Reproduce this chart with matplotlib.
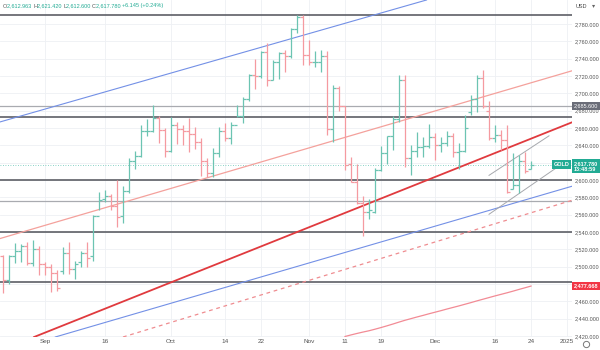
import numpy as np
import pandas as pd
import matplotlib
matplotlib.use("Agg")
import matplotlib.pyplot as plt
from matplotlib.lines import Line2D
import matplotlib.transforms as mtransforms

plt.rcParams["font.family"] = ["Liberation Sans", "DejaVu Sans"]

# Gold daily bars, Aug 22 - Dec 24 2024 (one bar per weekday)
opens = [2512, 2485, 2512, 2518, 2524, 2504, 2521, 2503, 2500, 2493,
         2495, 2516, 2497, 2506, 2516, 2512, 2558, 2578, 2582, 2570,
         2559, 2587, 2622, 2628, 2657, 2657, 2672, 2658, 2634, 2663,
         2659, 2656, 2653, 2644, 2622, 2608, 2631, 2657, 2649, 2663,
         2674, 2693, 2721, 2720, 2748, 2715, 2736, 2747, 2743, 2774,
         2788, 2744, 2736, 2736, 2743, 2659, 2706, 2685, 2618, 2598,
         2573, 2563, 2563, 2612, 2631, 2651, 2670, 2715, 2625, 2633,
         2638, 2639, 2650, 2640, 2643, 2651, 2632, 2633, 2678, 2694,
         2718, 2680, 2648, 2652, 2646, 2590, 2594, 2622, 2612.963]
highs = [2514, 2513, 2527, 2526, 2528, 2531, 2524, 2505, 2503, 2496,
         2523, 2529, 2507, 2518, 2529, 2560, 2586, 2589, 2584, 2600,
         2593, 2625, 2634, 2664, 2670, 2686, 2674, 2660, 2673, 2667,
         2664, 2671, 2661, 2648, 2625, 2637, 2661, 2666, 2667, 2686,
         2696, 2722, 2740, 2749, 2758, 2739, 2748, 2750, 2775, 2790,
         2790, 2761, 2749, 2750, 2749, 2710, 2709, 2685, 2626, 2618,
         2581, 2578, 2614, 2639, 2651, 2674, 2721, 2721, 2640, 2655,
         2650, 2665, 2654, 2650, 2657, 2654, 2643, 2675, 2698, 2721,
         2727, 2691, 2663, 2658, 2664, 2631, 2629, 2632, 2621.42]
lows = [2470, 2480, 2504, 2506, 2502, 2501, 2490, 2490, 2471, 2472,
        2492, 2492, 2486, 2500, 2500, 2507, 2565, 2575, 2565, 2546,
        2550, 2585, 2613, 2626, 2651, 2655, 2643, 2626, 2632, 2641,
        2640, 2632, 2636, 2605, 2603, 2603, 2626, 2645, 2642, 2673,
        2666, 2691, 2705, 2718, 2709, 2715, 2717, 2725, 2741, 2770,
        2733, 2733, 2730, 2725, 2652, 2644, 2680, 2611, 2598, 2572,
        2536, 2555, 2562, 2610, 2618, 2635, 2667, 2615, 2606, 2627,
        2627, 2637, 2623, 2632, 2639, 2626, 2613, 2632, 2675, 2678,
        2683, 2646, 2644, 2635, 2585, 2590, 2585, 2608, 2612.6]
closes = [2485, 2512, 2518, 2524, 2504, 2521, 2503, 2500, 2493, 2476,
          2516, 2497, 2503, 2516, 2510, 2558, 2577, 2582, 2570, 2557,
          2587, 2622, 2628, 2657, 2657, 2672, 2658, 2634, 2663, 2659,
          2656, 2653, 2644, 2622, 2608, 2631, 2657, 2649, 2663, 2674,
          2693, 2721, 2720, 2748, 2715, 2736, 2747, 2743, 2774, 2788,
          2744, 2736, 2736, 2743, 2659, 2706, 2685, 2617, 2598, 2573,
          2563, 2565, 2612, 2631, 2651, 2670, 2715, 2625, 2633, 2638,
          2639, 2650, 2640, 2643, 2651, 2632, 2633, 2660, 2694, 2718,
          2685, 2648, 2652, 2646, 2586, 2594, 2622, 2610, 2617.78]

# moving average, shown from Nov 11 onwards
ma_start = "2024-11-11"
ma_values = [2419.5, 2421.3, 2423.0, 2424.6, 2426.1, 2427.9, 2429.8, 2431.8,
             2433.9, 2436.1, 2438.2, 2440.1, 2442.0, 2443.8, 2445.7, 2447.5,
             2449.3, 2451.2, 2453.0, 2454.8, 2456.7, 2458.6, 2460.6, 2462.5,
             2464.4, 2466.3, 2468.1, 2469.9, 2471.8, 2473.8, 2475.7, 2477.668]

# horizontal levels
levels_dark = [2790.0, 2672.5, 2600.0, 2540.0, 2482.0]
levels_light = [2685.6, 2575.5]
level_tag = 2685.6
last_price = 2617.78
last_time = "13:48:59"

# drawn trend lines, each through two (date, price) points
blue_upper = [("2024-08-22", 2668.0), ("2024-11-12", 2782.8)]
blue_lower = [("2024-09-05", 2421.5), ("2024-12-20", 2575.0)]
red_main = [("2024-08-29", 2418.4), ("2024-12-20", 2642.2)]
red_upper = [("2024-08-22", 2533.5), ("2024-12-20", 2708.1)]
red_dashed = [("2024-09-19", 2418.9), ("2024-12-20", 2558.0)]
gray_upper = [("2024-12-13", 2605.4), ("2024-12-27", 2651.0)]
gray_lower = [("2024-12-13", 2560.5), ("2024-12-30", 2613.0)]

# scale labels (2,620 and 2,480 sit under the price tags)
price_ticks = list(range(2420, 2781, 20))
hidden_ticks = [2620, 2480]
time_tick_dates = ["2024-09-02", "2024-09-16", "2024-10-01", "2024-10-14",
                   "2024-10-22", "2024-11-01", "2024-11-11", "2024-11-19",
                   "2024-12-02", "2024-12-16", "2024-12-24", "2025-01-01"]
time_tick_labels = ["Sep", "16", "Oct", "14", "22", "Nov", "11", "19",
                    "Dec", "16", "24", "2025"]

header_parts = [("O", "#555555"), ("2,612.963 ", "#22ab94"),
                ("H", "#555555"), ("2,621.420 ", "#22ab94"),
                ("L", "#555555"), ("2,612.600 ", "#22ab94"),
                ("C", "#555555"), ("2,617.780 ", "#22ab94"),
                ("+6.145 (+0.24%)", "#22ab94")]

# bar index for each weekday (bars sit on a gapless weekday axis)
days = pd.bdate_range("2024-08-22", "2025-01-03")
pos = {d: i for i, d in enumerate(days)}


def ix(d):
    return pos[pd.Timestamp(d)]


GREEN = "#6cc4b2"
RED = "#f59aa0"
TAG_GREEN = "#22ab94"
TAG_RED = "#f23645"
FS = 4.0

fig = plt.figure(figsize=(6, 3.5), dpi=100)
ax = fig.add_axes([0, 13 / 350, 572 / 600, 337 / 350])
ax.set_xlim(-0.5, 94.83)
ax.set_ylim(2418.9, 2807.7)
for s in ax.spines.values():
    s.set_visible(False)

# grid
ax.set_axisbelow(True)
ax.grid(True, color="#eef0f4", lw=0.6)

# axes ticks
ax.set_xticks([ix(d) for d in time_tick_dates])
ax.set_xticklabels(time_tick_labels)
ax.tick_params(axis="x", length=0, pad=1.5, labelsize=4.6, labelcolor="#555555")
ax.yaxis.tick_right()
ax.set_yticks(price_ticks)
ax.set_yticklabels(["" if p in hidden_ticks else "{:,.3f}".format(p)
                    for p in price_ticks])
ax.tick_params(axis="y", length=0, pad=1.6, labelsize=FS, labelcolor="#555555")

# horizontal levels
for lv in levels_dark:
    ax.axhline(lv, color="#5d5f66", lw=1.2, zorder=2)
for lv in levels_light:
    ax.axhline(lv, color="#a9abb0", lw=0.9, zorder=2)
ax.axhline(last_price, color=TAG_GREEN, lw=0.6, ls=(0, (1, 2)), alpha=0.7, zorder=2)


# trend lines
def trend(pts, **kw):
    (d1, p1), (d2, p2) = pts
    ax.axline((ix(d1), p1), (ix(d2), p2), zorder=3, **kw)


trend(blue_upper, color="#7390e6", lw=0.8)
trend(blue_lower, color="#7390e6", lw=0.8)
trend(red_main, color="#e03a3e", lw=1.3)
trend(red_upper, color="#f4a19c", lw=0.9)
trend(red_dashed, color="#ef8c90", lw=0.9, ls=(0, (3, 3)))
for seg in (gray_upper, gray_lower):
    (d1, p1), (d2, p2) = seg
    ax.plot([ix(d1), ix(d2)], [p1, p2], color="#a6a8ad", lw=0.7, zorder=3)

# moving average
ma_x = np.arange(ix(ma_start), ix(ma_start) + len(ma_values))
ax.plot(ma_x, ma_values, color="#f28b95", lw=0.9, zorder=3)

# OHLC bars
o = np.array(opens, dtype=float)
h = np.array(highs, dtype=float)
l = np.array(lows, dtype=float)
c = np.array(closes, dtype=float)
x = np.arange(len(o))
cols = [GREEN if cc >= oo else RED for oo, cc in zip(o, c)]
ax.vlines(x, l, h, colors=cols, lw=0.9, zorder=4)
ax.hlines(o, x - 0.42, x, colors=cols, lw=0.9, zorder=4)
ax.hlines(c, x, x + 0.42, colors=cols, lw=0.9, zorder=4)

# price tags on the right scale
trans = mtransforms.blended_transform_factory(ax.transAxes, ax.transData)
tag_box = dict(boxstyle="square,pad=0.3", ec="none")
tag_x = 574 / 572
ax.text(tag_x, level_tag, "{:,.3f}".format(level_tag), transform=trans,
        fontsize=FS, color="white", va="center", ha="left", zorder=10,
        clip_on=False, bbox=dict(tag_box, fc="#6a6d78"))
ax.text(tag_x, ma_values[-1], "{:,.3f}".format(ma_values[-1]), transform=trans,
        fontsize=FS, color="white", va="center", ha="left", zorder=10,
        clip_on=False, fontweight="bold", bbox=dict(tag_box, fc=TAG_RED))
ax.text(tag_x, last_price + 4.5, "{:,.3f}\n{}".format(last_price, last_time),
        transform=trans, fontsize=FS, color="white", va="top", ha="left",
        zorder=10, clip_on=False, linespacing=1.2, fontweight="bold",
        bbox=dict(tag_box, fc=TAG_GREEN))
ax.text(0.995, last_price, "GOLD", transform=trans, fontsize=FS,
        color="white", va="center", ha="right", zorder=10, fontweight="bold",
        bbox=dict(tag_box, fc=TAG_GREEN))

# header line, each piece chained after the previous one
last = ax.annotate(header_parts[0][0], xy=(3 / 600, 1 - 6 / 350),
                   xycoords="figure fraction", fontsize=4.0,
                   color=header_parts[0][1], va="center", ha="left")
for txt, col in header_parts[1:]:
    last = ax.annotate(txt, xy=(1, 0.5), xycoords=last, fontsize=4.0,
                       color=col, va="center", ha="left")

fig.text(576 / 600, 1 - 6 / 350, "USD", fontsize=FS, color="#444444",
         va="center", ha="left")
fig.text(592 / 600, 1 - 6 / 350, "\u25be", fontsize=4.5, color="#666666",
         va="center", ha="left", family="DejaVu Sans")
fig.add_artist(Line2D([586 / 600], [6 / 350], marker="o", ms=4.5, mfc="none",
                      mec="#777777", mew=0.7, transform=fig.transFigure))

fig.savefig("out.png", dpi=100)
